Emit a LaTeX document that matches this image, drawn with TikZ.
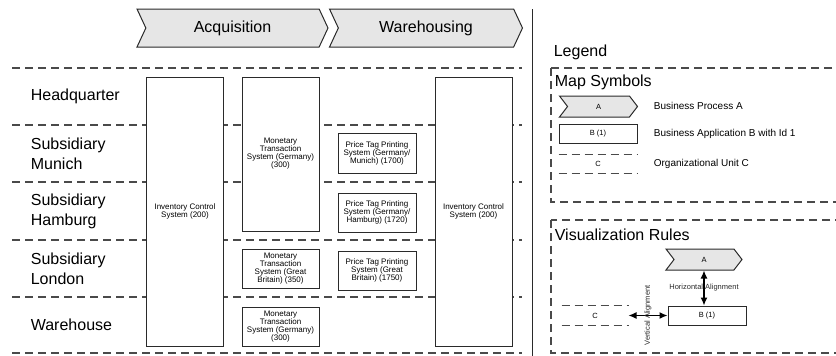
\documentclass[tikz,border=0pt]{standalone}
\usepackage{fontspec}
\setmainfont{Liberation Sans}
\usetikzlibrary{shapes.symbols,arrows.meta,positioning}
\definecolor{linegray}{HTML}{2A2A2A}
\definecolor{dashgray}{HTML}{4A4A4A}
\definecolor{procfill}{HTML}{E6E6E6}

\begin{document}
\begin{tikzpicture}[x=1pt, y=-1pt, line width=1pt,
	process/.style={signal, signal from=west, signal to=east, signal pointer angle=130, draw=linegray, fill=procfill, inner sep=0pt, font=\fontsize{16}{19}\selectfont},
	smallprocess/.style={process, signal pointer angle=105, minimum width=78pt, minimum height=21pt, font=\fontsize{7.5}{8}\selectfont},
	appbox/.style={rectangle, draw=linegray, fill=white, align=center, inner sep=0pt, minimum width=77pt, font=\fontsize{8}{8}\selectfont},
	orgunit/.style={rectangle, inner sep=0pt, minimum width=78pt, minimum height=18pt, font=\fontsize{7.5}{8}\selectfont},
	lanelabel/.style={anchor=west, align=left, font=\fontsize{16}{20}\selectfont},
	title/.style={anchor=west, font=\fontsize{16}{19}\selectfont},
	legendtext/.style={anchor=west, font=\fontsize{10}{12}\selectfont},
	dashline/.style={draw=dashgray, line width=1.1pt, dash pattern=on 8pt off 5pt},
	both/.style={{Latex[length=8pt,width=7pt]}-{Latex[length=8pt,width=7pt]}, line width=1.3pt},
	]
	\clip (0,0) rectangle (836,356);
	
	%Lanes
	\foreach \y in {68,125,182,240,297,353}
		\draw[dashline] (12,\y) -- (522,\y);
	\draw[linegray] (532,9) -- (532,356);
	
	%Processes
	\node[process, minimum width=191pt, minimum height=38pt] (acq) at (232.5,28) {Acquisition};
	\node[process, minimum width=193pt, minimum height=38pt] (ware) at (426,28) {Warehousing};
	
	%Organizational units
	\node[lanelabel] (hq)  at (27,96.5)  {Headquarter};
	\node[lanelabel] (muc) at (27,153.5) {Subsidiary\\Munich};
	\node[lanelabel] (ham) at (27,211)   {Subsidiary\\Hamburg};
	\node[lanelabel] (lon) at (27,268.5) {Subsidiary\\London};
	\node[lanelabel] (wh)  at (27,325)   {Warehouse};
	
	%Applications
	\node[appbox, minimum height=269pt] (icsA) at (185,211.5) {Inventory Control\\System (200)};
	\node[appbox, minimum height=154pt] (mtsDE) at (280.5,154) {Monetary\\Transaction\\System (Germany)\\(300)};
	\node[appbox, minimum width=78pt, minimum height=40pt] (ptpMUC) at (377,153) {Price Tag Printing\\System (Germany/\\Munich) (1700)};
	\node[appbox, minimum width=78pt, minimum height=39pt, below=19pt of ptpMUC] (ptpHAM) {Price Tag Printing\\System (Germany/\\Hamburg) (1720)};
	\node[appbox, minimum width=78pt, minimum height=39pt, below=18pt of ptpHAM] (ptpGB) {Price Tag Printing\\System (Great\\Britain) (1750)};
	\node[appbox, minimum height=39pt] (mtsGB) at (280.5,268.5) {Monetary\\Transaction\\System (Great\\Britain) (350)};
	\node[appbox, minimum height=39pt] (mtsWH) at (280.5,326.5) {Monetary\\Transaction\\System (Germany)\\(300)};
	\node[appbox, minimum height=269pt] (icsB) at (473.5,211.5) {Inventory Control\\System (200)};
	
	%Legend
	\node[title] (legend) at (550,52) {Legend};
	\draw[dashline] (551,68) rectangle (850,202);
	\node[title] (mapsym) at (551,82) {Map Symbols};
	\node[smallprocess] (symA) at (598.5,106.5) {A};
	\node[appbox, minimum width=78pt, minimum height=19pt, font=\fontsize{7.5}{8}\selectfont] (symB) at (598,133.5) {B (1)};
	\node[orgunit] (symC) at (598,164) {C};
	\draw[dashline] (symC.north west) -- (symC.north east);
	\draw[dashline] (symC.south west) -- (symC.south east);
	\node[legendtext] (txtA) at (650,106) {Business Process A};
	\node[legendtext] (txtB) at (650,134) {Business Application B with Id 1};
	\node[legendtext] (txtC) at (650,164) {Organizational Unit C};
	
	%Visualization rules
	\draw[dashline] (551,220) rectangle (850,353);
	\node[title] (visrules) at (551,235) {Visualization Rules};
	\node[smallprocess, minimum width=76pt] (ruleA) at (704,259.5) {A};
	\node[appbox, minimum width=78pt, minimum height=19pt, font=\fontsize{7.5}{8}\selectfont] (ruleB) at (707,315.5) {B (1)};
	\node[orgunit, minimum width=66pt, minimum height=19pt] (ruleC) at (595,315.5) {C};
	\draw[dashline] (ruleC.north west) -- (ruleC.north east);
	\draw[dashline] (ruleC.south west) -- (ruleC.south east);
	
	%Lines
	\draw[both] (ruleA.south) -- node[font=\fontsize{7.5}{8}\selectfont, text=linegray] {Horizontal Alignment} (ruleA.south |- ruleB.north);
	\draw[both] (ruleC.east) -- node[rotate=90, font=\fontsize{7.5}{8}\selectfont, text=linegray] {Vertical Alignment} (ruleB.west);
	
\end{tikzpicture}
\end{document}
